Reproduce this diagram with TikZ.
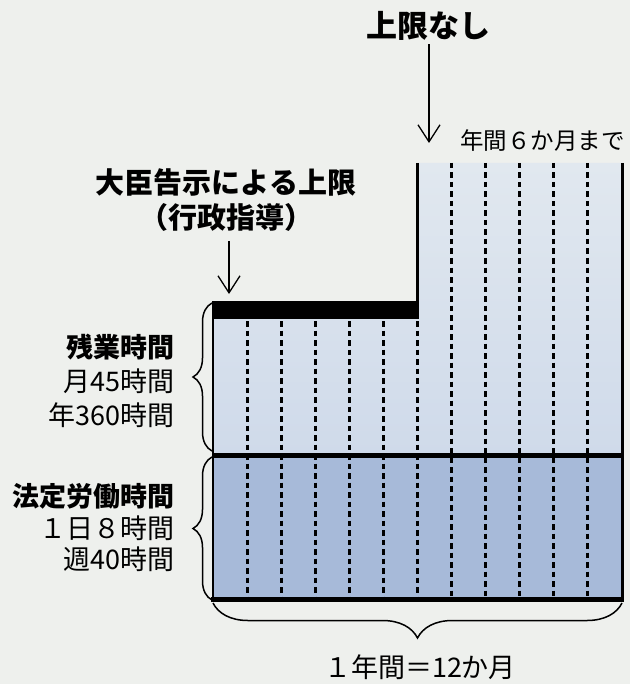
\documentclass[tikz,border=0pt]{standalone}
\usepackage{fontspec}
\setmainfont{Noto Sans CJK JP}
\usetikzlibrary{arrows.meta,decorations.pathreplacing}
\definecolor{paper}{HTML}{EEF0ED}
\definecolor{palebluetop}{HTML}{E1E8EF}
\definecolor{paleblue}{HTML}{CFDAEA}
\definecolor{deepblue}{HTML}{A7BAD9}

\begin{document}
\begin{tikzpicture}[x=1pt,y=-1pt,
    pointer/.style={line width=1.3pt,-{Straight Barb[length=17pt,width=22pt]}},
    monthline/.style={line width=3pt,dash pattern=on 5.5pt off 4pt},
    curly/.style={line width=1.5pt,decorate,decoration={brace,amplitude=#1}},
    sidelabel/.style={anchor=east,align=right,inner sep=0pt}]

  \useasboundingbox[fill=paper] (0,0) rectangle (630,684);

  % Areas
  \shade[top color=palebluetop,bottom color=paleblue]
    (213,319) -- (417,319) -- (417,163) -- (622,163) -- (622,455) -- (213,455) -- cycle;
  \fill[deepblue] (213,455) rectangle (622,599);

  % Month dividers
  \foreach \i in {1,...,11}{
    \pgfmathsetmacro\xpos{213+\i*409/12}
    \pgfmathsetmacro\ytop{\i>6 ? 163 : 321}
    \draw[monthline] (\xpos,\ytop) -- (\xpos,597);
  }

  % Limits
  \fill (213,301) rectangle (417,319);
  \draw[line width=1.5pt] (213,301) -- (213,599);
  \draw[line width=3pt] (417,163) -- (417,319);
  \draw[line width=3pt] (622,163) -- (622,601);
  \draw[line width=5pt] (213,455) -- (622,455);
  \draw[line width=5pt] (211,599) -- (624,599);

  % Labels
  \node[font=\bfseries\fontsize{31}{31}\selectfont] (nolimit) at (428,26) {上限なし};
  \coordinate (nolimitend) at (429,143);
  \node[anchor=west,inner sep=0pt,font=\fontsize{23.5}{24}\selectfont] (sixmonths) at (460,141) {年間６か月まで};

  \node[align=center,font=\bfseries\fontsize{29}{35}\selectfont] (notice) at (226,200)
    {大臣告示による上限\\（行政指導）};
  \coordinate (noticeend) at (229,294);

  \node[sidelabel,font=\fontsize{27}{34}\selectfont] (overtime) at (175,381)
    {{\bfseries 残業時間}\\月45時間\\年360時間};
  \node[sidelabel,font=\fontsize{27}{31.5}\selectfont] (legal) at (175,528)
    {{\bfseries 法定労働時間}\\１日８時間\\週40時間};

  \node[font=\fontsize{27}{27}\selectfont] (year) at (420,667) {１年間＝12か月};

  % Arrows
  \draw[pointer] (nolimit.south -| nolimitend) -- (nolimitend);
  \draw[pointer,shorten <=6pt] (notice.south -| noticeend) -- (noticeend);

  % Braces
  \coordinate (otop) at (212,303);
  \coordinate (obot) at (212,451);
  \coordinate (ltop) at (212,457);
  \coordinate (lbot) at (212,600);
  \coordinate (yleft) at (213,603);
  \coordinate (yright) at (622,603);
  \draw[curly=19pt] (obot) -- (otop);
  \draw[curly=19pt] (lbot) -- (ltop);
  \draw[curly=35pt] (yright) -- (yleft);
\end{tikzpicture}
\end{document}
